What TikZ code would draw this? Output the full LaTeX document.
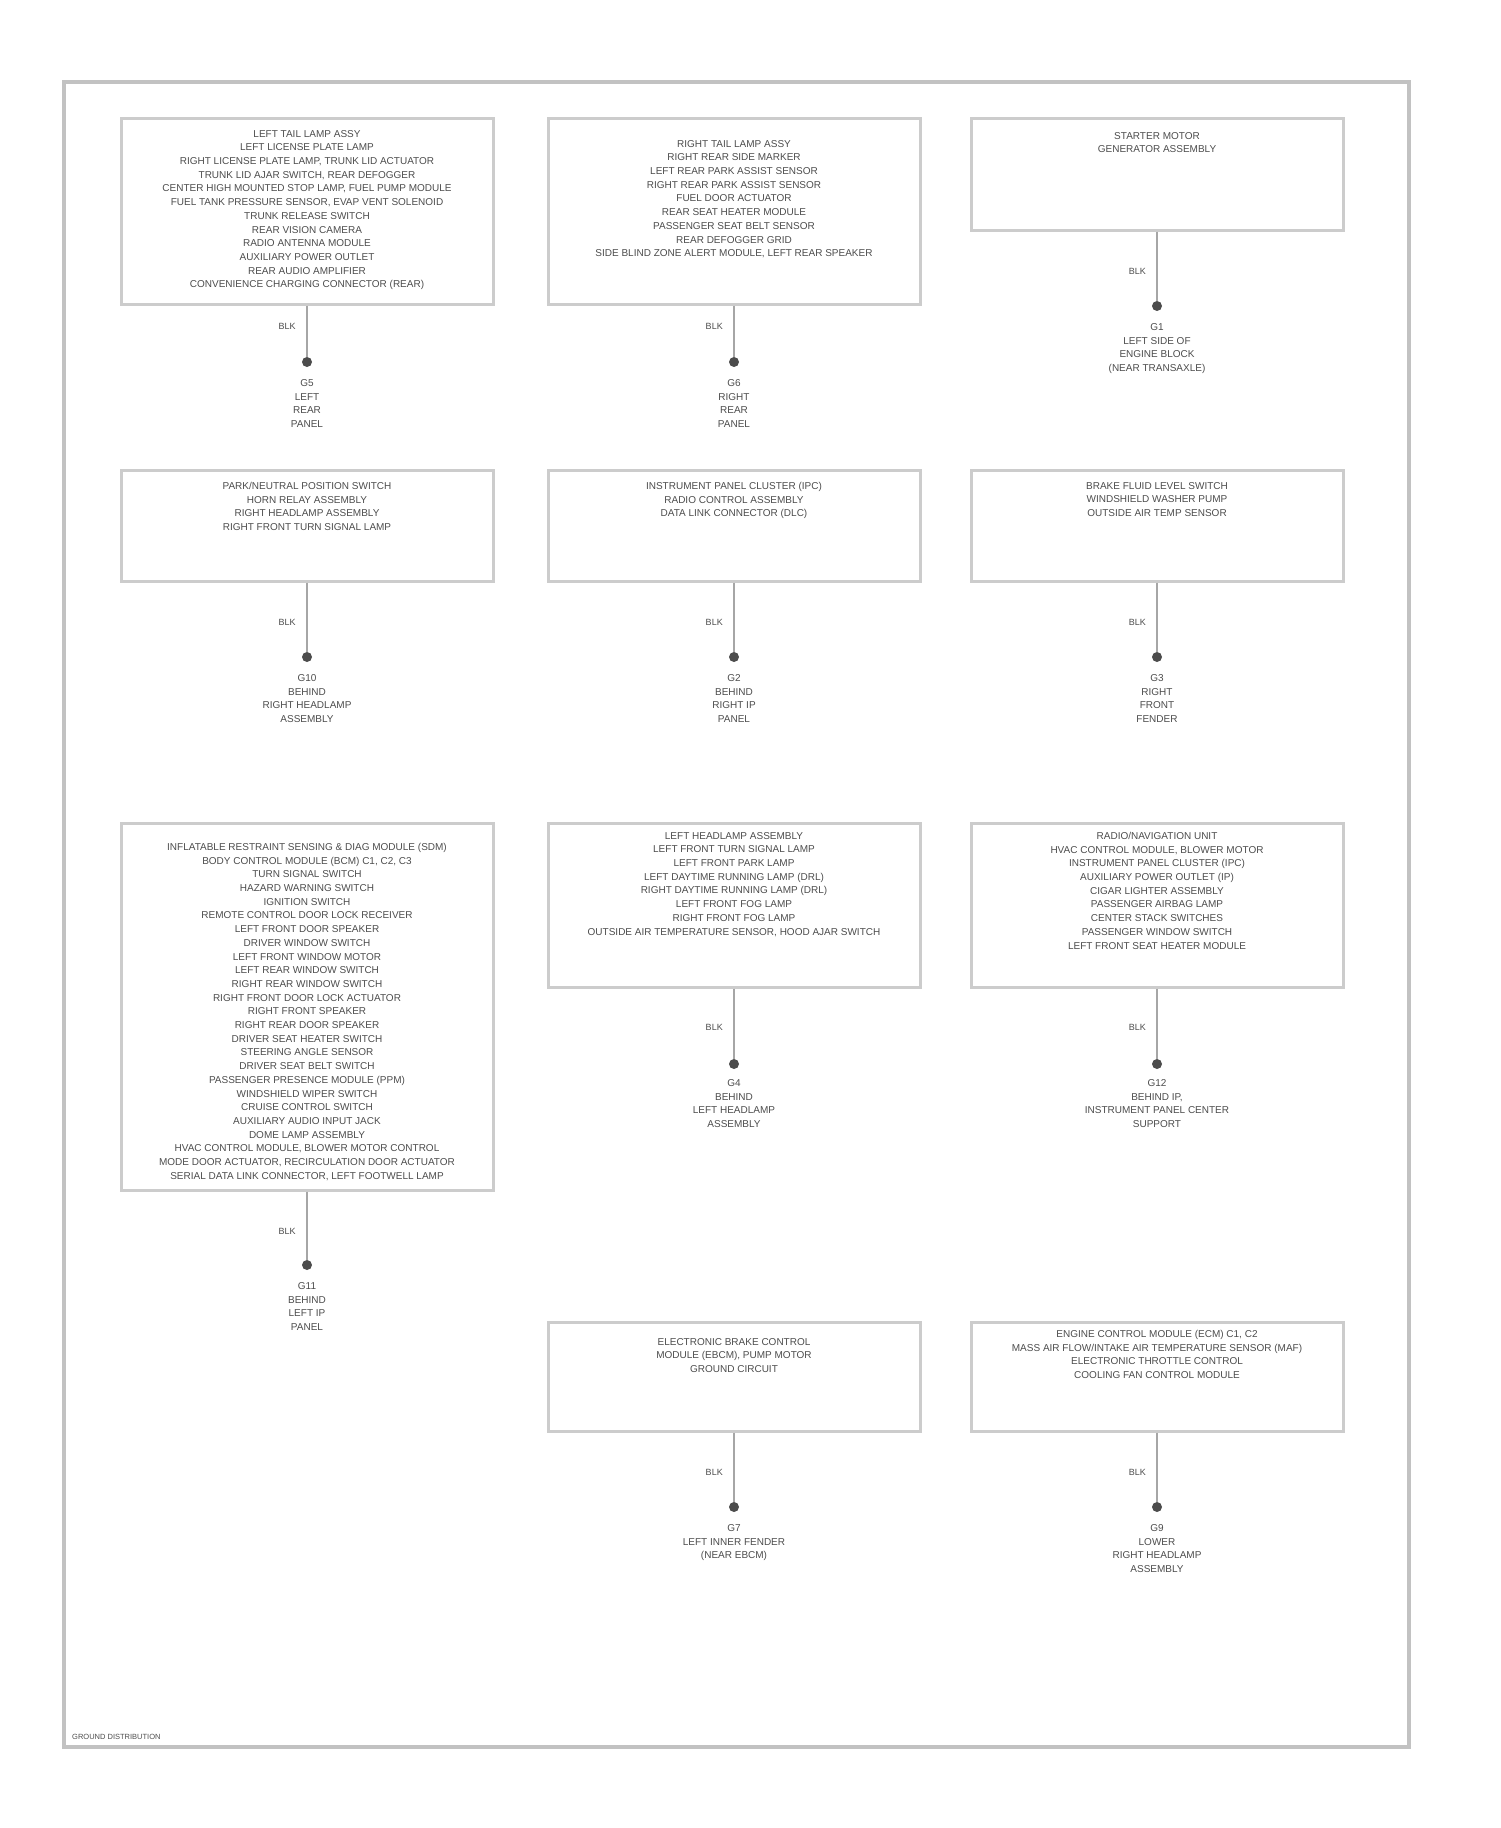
\documentclass[tikz,border=0pt]{standalone}
\usepackage{fontspec}
\setmainfont{Liberation Sans}
\usetikzlibrary{positioning}
\begin{document}
\begin{tikzpicture}[x=1pt,y=-1pt]
\tikzstyle{every node}+=[inner sep=0pt, text=black!70, font=\fontsize{10}{13.7}\selectfont]
\tikzstyle{compbox}=[rectangle, draw=black!20, line width=3pt, minimum width=372pt]
\tikzstyle{comptext}=[anchor=north, align=center]
\tikzstyle{wire}=[draw=black!35, line width=2.5pt]
\tikzstyle{gnddot}=[circle, fill=black!70, minimum size=10pt]
\tikzstyle{gndtext}=[anchor=north, align=center]
\tikzstyle{wirelabel}=[anchor=east, xshift=-10pt, font=\fontsize{9}{10}\selectfont]
\useasboundingbox (0,0) rectangle (1500,1828);
\draw [black!24, line width=4pt] (64,82) rectangle (1409,1747);
\node [anchor=west, font=\fontsize{7.5}{8}\selectfont] (figid) at (72,1737) {GROUND DISTRIBUTION};
% row 1
\node [compbox, minimum height=186pt] (box1) at (307,211) {};
\node [comptext, yshift=-13.5pt] (txt1) at (box1.north) {LEFT TAIL LAMP ASSY\\LEFT LICENSE PLATE LAMP\\RIGHT LICENSE PLATE LAMP, TRUNK LID ACTUATOR\\TRUNK LID AJAR SWITCH, REAR DEFOGGER\\CENTER HIGH MOUNTED STOP LAMP, FUEL PUMP MODULE\\FUEL TANK PRESSURE SENSOR, EVAP VENT SOLENOID\\TRUNK RELEASE SWITCH\\REAR VISION CAMERA\\RADIO ANTENNA MODULE\\AUXILIARY POWER OUTLET\\REAR AUDIO AMPLIFIER\\CONVENIENCE CHARGING CONNECTOR (REAR)};
\node [gnddot] (dot1) at (307,362) {};
\draw [wire] (box1.south) -- node [wirelabel, pos=0.4] (wl1) {BLK} (dot1);
\node [gndtext, yshift=-17.3pt] (gt1) at (dot1.center) {G5\\LEFT\\REAR\\PANEL};
\node [compbox, minimum height=186pt] (box2) at (734,211) {};
\node [comptext, yshift=-23.5pt] (txt2) at (box2.north) {RIGHT TAIL LAMP ASSY\\RIGHT REAR SIDE MARKER\\LEFT REAR PARK ASSIST SENSOR\\RIGHT REAR PARK ASSIST SENSOR\\FUEL DOOR ACTUATOR\\REAR SEAT HEATER MODULE\\PASSENGER SEAT BELT SENSOR\\REAR DEFOGGER GRID\\SIDE BLIND ZONE ALERT MODULE, LEFT REAR SPEAKER};
\node [gnddot] (dot2) at (734,362) {};
\draw [wire] (box2.south) -- node [wirelabel, pos=0.4] (wl2) {BLK} (dot2);
\node [gndtext, yshift=-17.3pt] (gt2) at (dot2.center) {G6\\RIGHT\\REAR\\PANEL};
\node [compbox, minimum height=112pt] (box3) at (1157,174) {};
\node [comptext, yshift=-15.5pt] (txt3) at (box3.north) {STARTER MOTOR\\GENERATOR ASSEMBLY};
\node [gnddot] (dot3) at (1157,306) {};
\draw [wire] (box3.south) -- node [wirelabel, pos=0.58] (wl3) {BLK} (dot3);
\node [gndtext, yshift=-17.3pt] (gt3) at (dot3.center) {G1\\LEFT SIDE OF\\ENGINE BLOCK\\(NEAR TRANSAXLE)};
% row 2
\node [compbox, minimum height=111pt] (box4) at (307,525.5) {};
\node [comptext, yshift=-13.5pt] (txt4) at (box4.north) {PARK/NEUTRAL POSITION SWITCH\\HORN RELAY ASSEMBLY\\RIGHT HEADLAMP ASSEMBLY\\RIGHT FRONT TURN SIGNAL LAMP};
\node [gnddot] (dot4) at (307,657) {};
\draw [wire] (box4.south) -- node [wirelabel, pos=0.58] (wl4) {BLK} (dot4);
\node [gndtext, yshift=-17.3pt] (gt4) at (dot4.center) {G10\\BEHIND\\RIGHT HEADLAMP\\ASSEMBLY};
\node [compbox, minimum height=111pt] (box5) at (734,525.5) {};
\node [comptext, yshift=-13.5pt] (txt5) at (box5.north) {INSTRUMENT PANEL CLUSTER (IPC)\\RADIO CONTROL ASSEMBLY\\DATA LINK CONNECTOR (DLC)};
\node [gnddot] (dot5) at (734,657) {};
\draw [wire] (box5.south) -- node [wirelabel, pos=0.58] (wl5) {BLK} (dot5);
\node [gndtext, yshift=-17.3pt] (gt5) at (dot5.center) {G2\\BEHIND\\RIGHT IP\\PANEL};
\node [compbox, minimum height=111pt] (box6) at (1157,525.5) {};
\node [comptext, yshift=-13.5pt] (txt6) at (box6.north) {BRAKE FLUID LEVEL SWITCH\\WINDSHIELD WASHER PUMP\\OUTSIDE AIR TEMP SENSOR};
\node [gnddot] (dot6) at (1157,657) {};
\draw [wire] (box6.south) -- node [wirelabel, pos=0.58] (wl6) {BLK} (dot6);
\node [gndtext, yshift=-17.3pt] (gt6) at (dot6.center) {G3\\RIGHT\\FRONT\\FENDER};
% row 3
\node [compbox, minimum height=367pt] (box7) at (307,1006.5) {};
\node [comptext, yshift=-21.5pt] (txt7) at (box7.north) {INFLATABLE RESTRAINT SENSING \& DIAG MODULE (SDM)\\BODY CONTROL MODULE (BCM) C1, C2, C3\\TURN SIGNAL SWITCH\\HAZARD WARNING SWITCH\\IGNITION SWITCH\\REMOTE CONTROL DOOR LOCK RECEIVER\\LEFT FRONT DOOR SPEAKER\\DRIVER WINDOW SWITCH\\LEFT FRONT WINDOW MOTOR\\LEFT REAR WINDOW SWITCH\\RIGHT REAR WINDOW SWITCH\\RIGHT FRONT DOOR LOCK ACTUATOR\\RIGHT FRONT SPEAKER\\RIGHT REAR DOOR SPEAKER\\DRIVER SEAT HEATER SWITCH\\STEERING ANGLE SENSOR\\DRIVER SEAT BELT SWITCH\\PASSENGER PRESENCE MODULE (PPM)\\WINDSHIELD WIPER SWITCH\\CRUISE CONTROL SWITCH\\AUXILIARY AUDIO INPUT JACK\\DOME LAMP ASSEMBLY\\HVAC CONTROL MODULE, BLOWER MOTOR CONTROL\\MODE DOOR ACTUATOR, RECIRCULATION DOOR ACTUATOR\\SERIAL DATA LINK CONNECTOR, LEFT FOOTWELL LAMP};
\node [gnddot] (dot7) at (307,1265) {};
\draw [wire] (box7.south) -- node [wirelabel, pos=0.59] (wl7) {BLK} (dot7);
\node [gndtext, yshift=-17.3pt] (gt7) at (dot7.center) {G11\\BEHIND\\LEFT IP\\PANEL};
\node [compbox, minimum height=164pt] (box8) at (734,905) {};
\node [comptext, yshift=-10.5pt] (txt8) at (box8.north) {LEFT HEADLAMP ASSEMBLY\\LEFT FRONT TURN SIGNAL LAMP\\LEFT FRONT PARK LAMP\\LEFT DAYTIME RUNNING LAMP (DRL)\\RIGHT DAYTIME RUNNING LAMP (DRL)\\LEFT FRONT FOG LAMP\\RIGHT FRONT FOG LAMP\\OUTSIDE AIR TEMPERATURE SENSOR, HOOD AJAR SWITCH};
\node [gnddot] (dot8) at (734,1064) {};
\draw [wire] (box8.south) -- node [wirelabel, pos=0.56] (wl8) {BLK} (dot8);
\node [gndtext, yshift=-15.3pt] (gt8) at (dot8.center) {G4\\BEHIND\\LEFT HEADLAMP\\ASSEMBLY};
\node [compbox, minimum height=164pt] (box9) at (1157,905) {};
\node [comptext, yshift=-10.5pt] (txt9) at (box9.north) {RADIO/NAVIGATION UNIT\\HVAC CONTROL MODULE, BLOWER MOTOR\\INSTRUMENT PANEL CLUSTER (IPC)\\AUXILIARY POWER OUTLET (IP)\\CIGAR LIGHTER ASSEMBLY\\PASSENGER AIRBAG LAMP\\CENTER STACK SWITCHES\\PASSENGER WINDOW SWITCH\\LEFT FRONT SEAT HEATER MODULE};
\node [gnddot] (dot9) at (1157,1064) {};
\draw [wire] (box9.south) -- node [wirelabel, pos=0.56] (wl9) {BLK} (dot9);
\node [gndtext, yshift=-15.3pt] (gt9) at (dot9.center) {G12\\BEHIND IP,\\INSTRUMENT PANEL CENTER\\SUPPORT};
% row 4
\node [compbox, minimum height=109pt] (box10) at (734,1376.5) {};
\node [comptext, yshift=-17.5pt] (txt10) at (box10.north) {ELECTRONIC BRAKE CONTROL\\MODULE (EBCM), PUMP MOTOR\\GROUND CIRCUIT};
\node [gnddot] (dot10) at (734,1507) {};
\draw [wire] (box10.south) -- node [wirelabel, pos=0.58] (wl10) {BLK} (dot10);
\node [gndtext, yshift=-17.3pt] (gt10) at (dot10.center) {G7\\LEFT INNER FENDER\\(NEAR EBCM)};
\node [compbox, minimum height=109pt] (box11) at (1157,1376.5) {};
\node [comptext, yshift=-9.5pt] (txt11) at (box11.north) {ENGINE CONTROL MODULE (ECM) C1, C2\\MASS AIR FLOW/INTAKE AIR TEMPERATURE SENSOR (MAF)\\ELECTRONIC THROTTLE CONTROL\\COOLING FAN CONTROL MODULE};
\node [gnddot] (dot11) at (1157,1507) {};
\draw [wire] (box11.south) -- node [wirelabel, pos=0.58] (wl11) {BLK} (dot11);
\node [gndtext, yshift=-17.3pt] (gt11) at (dot11.center) {G9\\LOWER\\RIGHT HEADLAMP\\ASSEMBLY};
\end{tikzpicture}
\end{document}
